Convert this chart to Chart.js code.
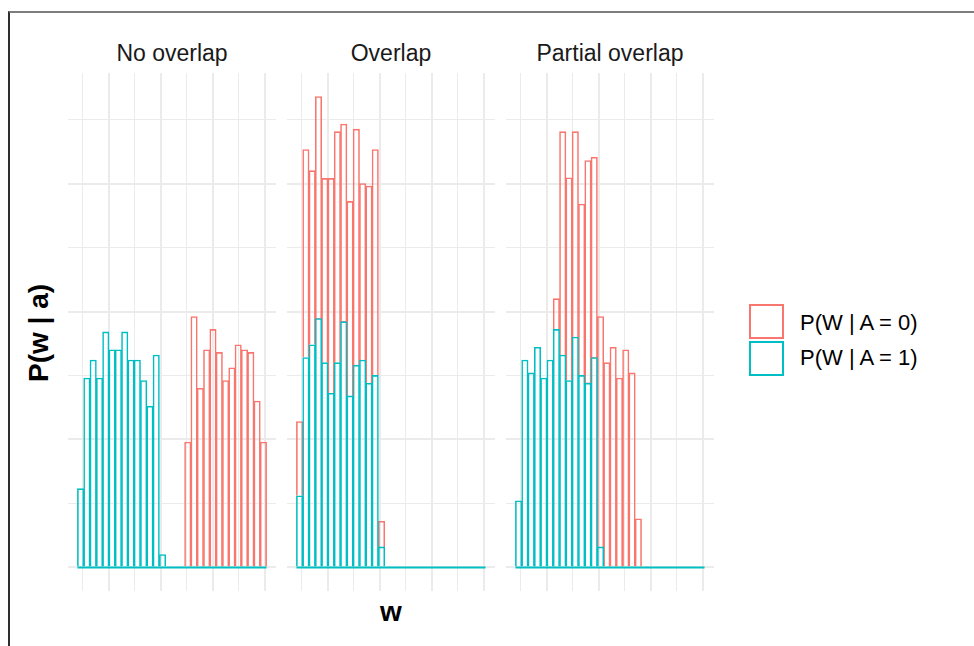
<!DOCTYPE html>
<html>
<head>
<meta charset="utf-8">
<script src="https://cdn.jsdelivr.net/npm/chart.js@4.4.1/dist/chart.umd.min.js"></script>
<style>
  html, body { margin: 0; padding: 0; background: #fff; }
  body { width: 974px; height: 646px; position: relative; overflow: hidden;
         font-family: "Liberation Sans", Arial, sans-serif; color: #1a1a1a; }
  #frame { position: absolute; left: 8px; top: 11px; right: 0; bottom: 0;
           border-top: 2px solid #7d7d7d; border-left: 2px solid #2e2e2e; }
  .panel { position: absolute; top: 73px; width: 208px; height: 518px; }
  .strip { position: absolute; top: 42px; width: 208px; text-align: center;
           font-size: 23px; line-height: 23px; white-space: nowrap; }
  #ytitle { position: absolute; left: 39px; top: 333px; font-size: 28px; font-weight: bold;
            line-height: 28px; white-space: nowrap; color: #000;
            transform: translate(-50%, -50%) rotate(-90deg); }
  #xtitle { position: absolute; left: 391px; top: 598px; font-size: 28px; font-weight: bold;
            line-height: 28px; color: #000; transform: translateX(-50%); }
  .key { position: absolute; left: 749px; width: 35px; height: 35px; box-sizing: border-box;
         border: 2px solid; }
  .keytext { position: absolute; left: 800px; font-size: 22px; line-height: 22px;
             white-space: nowrap; color: #000; }
</style>
</head>
<body>
<div id="frame"></div>
<div id="ytitle">P(w | a)</div>
<div id="xtitle">w</div>

<script>
const facetNames = ['No overlap', 'Overlap', 'Partial overlap'];
const groupNames = ['P(W | A = 0)', 'P(W | A = 1)'];
const groupColors = ['#F8766D', '#00BFC4'];

// histogram bin centres (w), 30 bins
const wBins = [-0.539, -0.418, -0.297, -0.175, -0.054, 0.067, 0.188, 0.310, 0.431, 0.552,
               0.674, 0.795, 0.916, 1.038, 1.159, 1.280, 1.401, 1.523, 1.644, 1.765,
               1.887, 2.008, 2.129, 2.251, 2.372, 2.493, 2.614, 2.736, 2.857, 2.978];
const wGrid = [-0.5, 0, 0.5, 1, 1.5, 2, 2.5, 3];
const pGrid = [0, 1, 2, 3, 4, 5, 6, 7];

// densities per bin (stacked: A = 1 at the bottom, A = 0 on top)
const noOverlapA0 = [0, 0, 0, 0, 0, 0, 0, 0, 0, 0, 0, 0, 0, 0, 0, 0, 0,
                     1.96, 3.92, 2.80, 3.40, 3.72, 3.36, 2.92, 3.12, 3.48, 3.40, 3.36, 2.60, 1.96];
const noOverlapA1 = [1.23, 2.96, 3.24, 2.96, 3.68, 3.40, 3.40, 3.68, 3.24, 3.24, 2.92, 2.52, 3.32, 0.20,
                     0, 0, 0, 0, 0, 0, 0, 0, 0, 0, 0, 0, 0, 0, 0, 0];
const overlapA0 = [1.16, 3.25, 2.72, 3.47, 2.88, 3.36, 3.61, 3.09, 3.04, 3.69, 2.76, 3.08, 3.53, 0.40,
                   0, 0, 0, 0, 0, 0, 0, 0, 0, 0, 0, 0, 0, 0, 0, 0];
const overlapA1 = [1.12, 3.28, 3.48, 3.89, 3.20, 2.72, 3.20, 3.84, 2.68, 3.16, 3.24, 2.88, 3.00, 0.32,
                   0, 0, 0, 0, 0, 0, 0, 0, 0, 0, 0, 0, 0, 0, 0, 0];
const partialA0 = [0, 0, 0, 0, 0, 0,
                   0.48, 3.49, 3.17, 3.21, 2.68, 3.48, 3.13, 3.60, 3.20, 3.44, 2.96, 3.40, 3.04, 0.76,
                   0, 0, 0, 0, 0, 0, 0, 0, 0, 0];
const partialA1 = [1.04, 3.24, 3.04, 3.44, 2.96, 3.24, 3.72, 3.32, 2.92, 3.60, 3.00, 2.88, 3.28, 0.32,
                   0, 0, 0, 0, 0, 0, 0, 0, 0, 0, 0, 0, 0, 0, 0, 0];

const facets = [
  [noOverlapA0, noOverlapA1],
  [overlapA0, overlapA1],
  [partialA0, partialA1]
];
const panelLeft = [68, 287, 506];

// shared scales, ggplot-like 5% expansion
const halfBin = (wBins[1] - wBins[0]) / 2;
const wLo = wBins[0] - halfBin;
const wHi = wBins[wBins.length - 1] + halfBin;
const wPad = (wHi - wLo) * 0.05;
const totals = facets.flatMap(f => f[0].map((v, i) => v + f[1][i]));
const pMax = Math.max(...totals);
const pPad = pMax * 0.05;

function histSet(label, values, color, order) {
  return {
    type: 'bar',
    label,
    order,
    data: wBins.map((w, i) => ({ x: w, y: values[i] })),
    backgroundColor: 'rgba(0,0,0,0)',
    borderColor: color,
    borderWidth: 0.8,
    inflateAmount: 0.4,
    borderSkipped: 'start',
    barPercentage: 1,
    categoryPercentage: 1
  };
}

facets.forEach((f, k) => {
  const strip = document.createElement('div');
  strip.className = 'strip';
  strip.style.left = panelLeft[k] + 'px';
  strip.textContent = facetNames[k];
  document.body.appendChild(strip);

  const box = document.createElement('div');
  box.className = 'panel';
  box.style.left = panelLeft[k] + 'px';
  const canvas = document.createElement('canvas');
  canvas.width = 208;
  canvas.height = 518;
  box.appendChild(canvas);
  document.body.appendChild(box);

  new Chart(canvas.getContext('2d'), {
    type: 'bar',
    data: {
      datasets: [
        histSet(groupNames[1], f[1], groupColors[1], 1),
        histSet(groupNames[0], f[0], groupColors[0], 2),
        {
          type: 'line',
          label: 'baseline',
          order: 0,
          data: [{ x: wLo, y: 0 }, { x: wHi, y: 0 }],
          borderColor: groupColors[1],
          borderWidth: 2,
          pointRadius: 0,
          fill: false
        }
      ]
    },
    options: {
      responsive: false,
      animation: false,
      devicePixelRatio: 1,
      events: [],
      layout: { padding: 0 },
      plugins: { legend: { display: false }, tooltip: { enabled: false } },
      scales: {
        x: {
          type: 'linear',
          min: wLo - wPad,
          max: wHi + wPad,
          offset: false,
          stacked: true,
          afterBuildTicks: ax => { ax.ticks = wGrid.map(v => ({ value: v })); },
          ticks: { display: false },
          border: { display: false },
          grid: {
            offset: false,
            drawTicks: false,
            color: '#EBEBEB',
            lineWidth: c => (c.tick && Number.isInteger(c.tick.value)) ? 2 : 1
          }
        },
        y: {
          type: 'linear',
          min: -pPad,
          max: pMax + pPad,
          beginAtZero: false,
          stacked: true,
          afterBuildTicks: ax => { ax.ticks = pGrid.map(v => ({ value: v })); },
          ticks: { display: false },
          border: { display: false },
          grid: {
            drawTicks: false,
            color: '#EBEBEB',
            lineWidth: c => (c.tick && c.tick.value % 2 === 0) ? 2 : 1
          }
        }
      }
    }
  });
});

// legend
groupNames.forEach((name, i) => {
  const key = document.createElement('div');
  key.className = 'key';
  key.style.top = (304 + i * 37) + 'px';
  key.style.borderColor = groupColors[i];
  document.body.appendChild(key);
  const txt = document.createElement('div');
  txt.className = 'keytext';
  txt.style.top = (312 + i * 35) + 'px';
  txt.textContent = name;
  document.body.appendChild(txt);
});
</script>
</body>
</html>
